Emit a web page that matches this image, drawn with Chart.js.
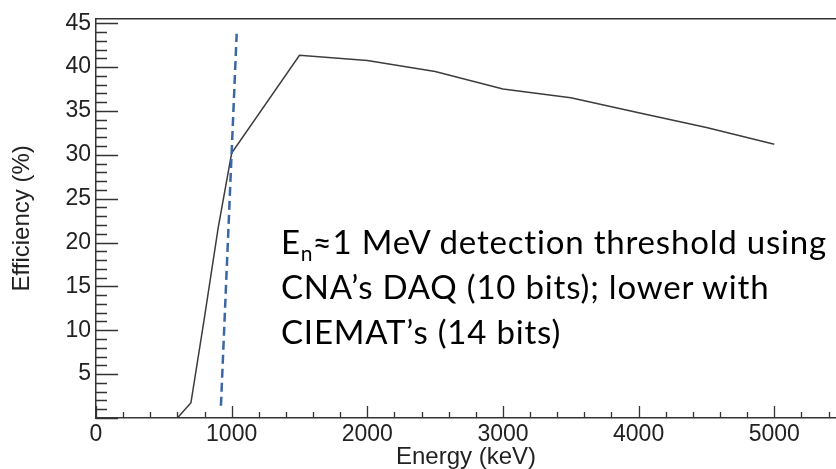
<!DOCTYPE html>
<html>
<head>
<meta charset="utf-8">
<script src="https://cdn.jsdelivr.net/npm/chart.js@4.4.0/dist/chart.umd.min.js"></script>
<style>
  body { margin: 0; background: #fff; }
  #wrap { position: relative; width: 836px; height: 469px; }
  #note {
    position: absolute; left: 281px; top: 219px;
    font-family: Lato, "Open Sans", sans-serif; font-size: 33px; line-height: 45px;
    letter-spacing: 0.8px; color: #000; white-space: nowrap;
  }
  #note sub { font-size: 21px; vertical-align: -7px; line-height: 0; letter-spacing: 0; }
</style>
</head>
<body>
<div id="wrap">
  <canvas id="effChart" width="836" height="469"></canvas>
  <div id="note">E<sub>n</sub>≈1 MeV detection threshold using<br>CNA’s DAQ (10 bits); lower with<br>CIEMAT’s (14 bits)</div>
</div>
<script>
// efficiency curve
const energy = [0, 100, 200, 300, 400, 500, 600, 700, 800, 900, 1000, 1500, 2000, 2500, 3000, 3500, 4000, 4500, 5000];
const efficiency = [0, 0, 0, 0, 0, 0, 0, 1.75, 11.5, 21.6, 30.2, 41.35, 40.75, 39.5, 37.5, 36.5, 34.8, 33.1, 31.2];

// dashed threshold marker
const thresholdEnergy = [921, 1037];
const thresholdEff = [1.4, 43.8];

// axis ticks
const xTicks = [0, 1000, 2000, 3000, 4000, 5000];
const yTicks = [5, 10, 15, 20, 25, 30, 35, 40, 45];

const axisColor = '#333';
const labelFont = { family: '"Liberation Sans", Arial, sans-serif', size: 23 };
const titleFont = { family: '"Liberation Sans", Arial, sans-serif', size: 24 };

// ROOT style inward tick marks (major + minor)
const tickMarks = {
  id: 'tickMarks',
  afterDatasetsDraw(chart) {
    const { ctx, chartArea, scales: { x, y } } = chart;
    ctx.save();
    ctx.strokeStyle = axisColor;
    ctx.lineWidth = 1.3;
    ctx.beginPath();
    for (let v = 0; v <= 45; v += 1) {
      const py = Math.round(y.getPixelForValue(v)) + 0.5;
      const len = v % 5 === 0 ? 22 : 11;
      ctx.moveTo(chartArea.left, py);
      ctx.lineTo(chartArea.left + len, py);
    }
    for (let v = 0; v <= 5400; v += 200) {
      const px = Math.round(x.getPixelForValue(v)) + 0.5;
      const len = v % 1000 === 0 ? 12 : 6;
      ctx.moveTo(px, chartArea.bottom);
      ctx.lineTo(px, chartArea.bottom - len);
    }
    ctx.stroke();
    ctx.restore();
  }
};

const ctx = document.getElementById('effChart').getContext('2d');
const effChart = new Chart(ctx, {
  type: 'line',
  data: {
    datasets: [{
      data: thresholdEnergy.map((e, i) => ({ x: e, y: thresholdEff[i] })),
      borderColor: '#3a66a3',
      borderWidth: 2.5,
      borderDash: [9, 5],
      pointRadius: 0,
      fill: false
    }, {
      data: energy.map((e, i) => ({ x: e, y: efficiency[i] })),
      borderColor: '#3c3c3c',
      borderWidth: 1.5,
      pointRadius: 0,
      tension: 0,
      fill: false
    }]
  },
  options: {
    responsive: false,
    animation: false,
    devicePixelRatio: 1,
    layout: { padding: 0 },
    plugins: { legend: { display: false }, tooltip: { enabled: false } },
    scales: {
      x: {
        type: 'linear',
        position: 'bottom',
        min: 0,
        max: 5455,
        afterBuildTicks: s => { s.ticks = xTicks.map(v => ({ value: v })); },
        afterFit: s => { s.height = 51; },
        ticks: { font: labelFont, color: '#222', padding: 3, maxRotation: 0, autoSkip: false, callback: v => String(v) },
        grid: { display: false, drawTicks: false },
        border: { color: axisColor, width: 1.5 },
        title: { display: true, text: 'Energy (keV)', font: titleFont, color: '#222', padding: { top: 0, bottom: -2.5 } }
      },
      xTop: {
        type: 'linear',
        position: 'top',
        min: 0,
        max: 5455,
        afterFit: s => { s.height = 14; },
        ticks: { display: false },
        grid: { display: false, drawTicks: false },
        border: { color: axisColor, width: 1.5 }
      },
      y: {
        min: 0,
        max: 45.5,
        afterBuildTicks: s => { s.ticks = yTicks.map(v => ({ value: v })); },
        afterFit: s => { s.width = 96; },
        ticks: { font: labelFont, color: '#222', padding: 5, autoSkip: false, callback: v => String(v) },
        grid: { display: false, drawTicks: false },
        border: { color: axisColor, width: 1.5 },
        title: { display: true, text: 'Efficiency (%)', font: titleFont, color: '#222', padding: { top: 8, bottom: 0 } }
      }
    }
  },
  plugins: [tickMarks]
});
</script>
</body>
</html>
